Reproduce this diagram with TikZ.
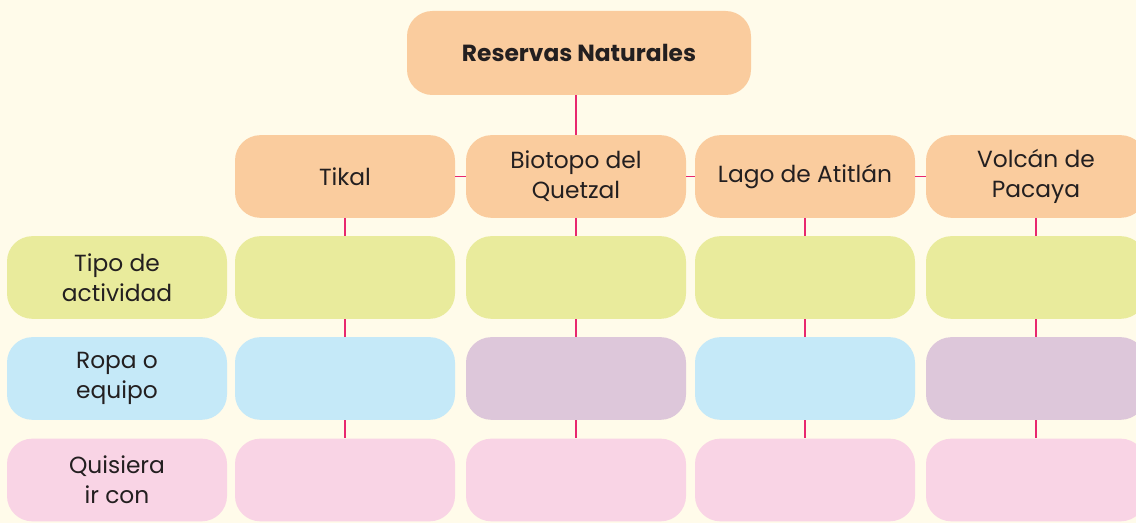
\documentclass[tikz,border=0pt]{standalone}
\usepackage{fontspec}
\setmainfont{Poppins}
\definecolor{fondo}{RGB}{255,251,234}
\definecolor{naranja}{RGB}{250,204,158}
\definecolor{verde}{RGB}{233,235,156}
\definecolor{celeste}{RGB}{197,233,248}
\definecolor{lila}{RGB}{221,199,218}
\definecolor{rosa}{RGB}{249,212,229}
\definecolor{enlace}{RGB}{232,40,110}
\definecolor{texto}{RGB}{35,31,32}
\begin{document}
\begin{tikzpicture}[x=0.75pt,y=-0.75pt,
    caja/.style={rounded corners=19pt,minimum width=165pt,minimum height=62pt,
      inner sep=0pt,align=center,text=texto,
      font=\fontsize{17.5}{22.5}\selectfont},
    linea/.style={draw=enlace,line width=0.8pt}]
  \fill[fondo] (0,0) rectangle (1136,523);
  \useasboundingbox (0,0) rectangle (1136,523);
  % titulo y reservas
  \node[caja,fill=naranja,minimum width=258pt,minimum height=63pt,
    font=\fontsize{17.5}{22.5}\selectfont\bfseries] (titulo) at (579,53) {Reservas Naturales};
  \node[caja,fill=naranja] (tikal) at (345,176.5) {Tikal};
  \node[caja,fill=naranja] (biotopo) at (576,176.5) {Biotopo del\\Quetzal};
  \node[caja,fill=naranja] (lago) at (805,176.5) {Lago de Atitl\'an};
  \node[caja,fill=naranja] (volcan) at (1036,176.5) {Volc\'an de\\Pacaya};
  % filas
  \node[caja,fill=verde] (act) at (117,277.5) {Tipo de\\actividad};
  \node[caja,fill=celeste] (ropa) at (117,378.5) {Ropa o\\equipo};
  \node[caja,fill=rosa] (ir) at (117,480) {Quisiera\\ir con};
  \foreach \nom/\cx/\tono in {tikal/345/celeste,biotopo/576/lila,lago/805/celeste,volcan/1036/lila} {
    \node[caja,fill=verde] (act-\nom) at (\cx,277.5) {};
    \node[caja,fill=\tono] (ropa-\nom) at (\cx,378.5) {};
    \node[caja,fill=rosa] (ir-\nom) at (\cx,480) {};
    \draw[linea] (\nom) -- (act-\nom);
    \draw[linea] (act-\nom) -- (ropa-\nom);
    \draw[linea] (ropa-\nom) -- (ir-\nom);
  }
  % enlaces
  \draw[linea] (titulo.south -| biotopo.north) -- (biotopo.north);
  \draw[linea] (tikal) -- (biotopo);
  \draw[linea] (biotopo) -- (lago);
  \draw[linea] (lago) -- (volcan);
\end{tikzpicture}
\end{document}
